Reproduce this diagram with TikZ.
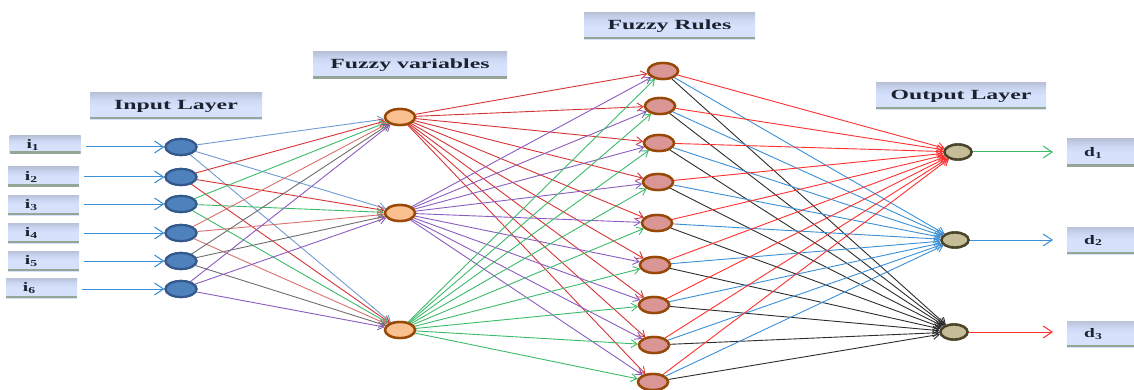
\documentclass[tikz,border=0pt]{standalone}
\usepackage{fontspec}
\setmainfont{Liberation Serif}
\usetikzlibrary{shapes.geometric,arrows.meta}

% palette
\definecolor{boxtop}{RGB}{140,140,148}
\definecolor{boxmid}{RGB}{204,216,244}
\definecolor{boxbot}{RGB}{214,226,252}
\definecolor{boxedge}{RGB}{150,166,150}
\definecolor{lbltxt}{RGB}{28,34,48}
\definecolor{inFill}{RGB}{79,129,189}
\definecolor{inDraw}{RGB}{52,90,140}
\definecolor{fvFill}{RGB}{250,192,144}
\definecolor{fvDraw}{RGB}{152,72,7}
\definecolor{ruFill}{RGB}{217,150,148}
\definecolor{outFill}{RGB}{196,189,151}
\definecolor{outDraw}{RGB}{74,69,42}
\definecolor{cBlueL}{RGB}{111,155,211}
\definecolor{cBlue}{RGB}{58,143,214}
\definecolor{cRed}{RGB}{214,52,52}
\definecolor{cGreen}{RGB}{60,186,106}
\definecolor{cPink}{RGB}{217,112,110}
\definecolor{cGrey}{RGB}{110,110,110}
\definecolor{cPurple}{RGB}{139,92,191}
\definecolor{cBrightRed}{RGB}{255,48,48}
\definecolor{cBlack}{RGB}{45,45,45}

% grey band at the top of each caption box, fading into pale blue
\pgfdeclareverticalshading{captionshade}{100bp}{%
  color(0bp)=(boxbot); color(50bp)=(boxbot); color(62bp)=(boxmid);
  color(82bp)=(boxmid!55!boxtop); color(100bp)=(boxtop)}

\newcommand{\wide}[1]{\scalebox{1.7}[1]{#1}}
\newcommand{\idx}[2]{\scalebox{1.5}[1]{\bfseries #1\textsubscript{#2}}}

\tikzset{
  shadedbox/.style={rectangle, inner sep=0pt, shading=captionshade,
    path picture={\fill[boxedge] (path picture bounding box.south west)
      rectangle ([yshift=2.5pt]path picture bounding box.south east);}},
  titlebox/.style={shadedbox, minimum height=27pt,
    font=\fontsize{14}{16}\selectfont\bfseries, text=lbltxt},
  sidebox/.style={shadedbox, minimum height=#1, text width=55pt, inner xsep=8pt,
    align=left, font=\fontsize{13}{15}\selectfont, text=lbltxt},
  innode/.style={ellipse, minimum width=31pt, minimum height=16pt, inner sep=0pt,
    fill=inFill, draw=inDraw, line width=2.2pt},
  fvnode/.style={ellipse, minimum width=30pt, minimum height=16pt, inner sep=0pt,
    fill=fvFill, draw=fvDraw, line width=2.4pt},
  runode/.style={ellipse, minimum width=30pt, minimum height=16pt, inner sep=0pt,
    fill=ruFill, draw=fvDraw, line width=2.4pt},
  outnode/.style={ellipse, minimum width=27pt, minimum height=15pt, inner sep=0pt,
    fill=outFill, draw=outDraw, line width=2.4pt},
  link/.style={line width=0.9pt, -{Straight Barb[length=6pt,width=8pt]}},
  feed/.style={line width=1pt, -{Straight Barb[length=9pt,width=12pt]}},
}

\begin{document}
\begin{tikzpicture}[x=1pt,y=-1pt]
\useasboundingbox (0,0) rectangle (1134,390);
\clip (0,0) rectangle (1134,390);

% layer titles
\node[titlebox, minimum width=172pt] (tin) at (176,106) {\wide{Input Layer}};
\node[titlebox, minimum width=194pt] (tfv) at (410,65.5) {\wide{Fuzzy variables}};
\node[titlebox, minimum width=171pt] (tru) at (669.5,26) {\wide{Fuzzy Rules}};
\node[titlebox, minimum width=170pt] (tout) at (961,96) {\wide{Output Layer}};

% input boxes
\node[sidebox=18pt] (b1) at (45,145) {\hspace*{9pt}\idx{i}{1}};
\node[sidebox=20pt] (b2) at (43.5,177) {\hspace*{9pt}\idx{i}{2}};
\node[sidebox=20pt] (b3) at (43.5,205) {\hspace*{9pt}\idx{i}{3}};
\node[sidebox=20pt] (b4) at (43.5,233) {\hspace*{9pt}\idx{i}{4}};
\node[sidebox=20pt] (b5) at (43.5,261) {\hspace*{9pt}\idx{i}{5}};
\node[sidebox=20pt] (b6) at (41.5,288) {\hspace*{9pt}\idx{i}{6}};

% output boxes
\node[sidebox=28pt, anchor=west] (d1) at (1067,153) {\hspace*{9pt}\idx{d}{1}};
\node[sidebox=27pt, anchor=west] (d2) at (1067,240.5) {\hspace*{9pt}\idx{d}{2}};
\node[sidebox=26pt, anchor=west] (d3) at (1067,334) {\hspace*{9pt}\idx{d}{3}};

% input neurons
\foreach \k/\y in {1/147,2/177,3/204,4/233,5/261,6/289}
  \node[innode] (n\k) at (181,\y) {};

% fuzzy variable neurons
\node[fvnode] (f1) at (400,117) {};
\node[fvnode] (f2) at (400,213) {};
\node[fvnode] (f3) at (400,330) {};

% rule neurons
\foreach \k/\x/\y in {1/663/71,2/660/106,3/659/143,4/658/182,5/657/223,
                      6/655/265,7/654/305,8/654/345,9/653/382}
  \node[runode] (r\k) at (\x,\y) {};

% output neurons
\node[outnode] (o1) at (958,152) {};
\node[outnode] (o2) at (955,240) {};
\node[outnode] (o3) at (954,332) {};

% input feeds
\foreach \k in {1,...,6}
  \draw[feed, cBlue] ([xshift=5pt]b\k.east |- n\k) -- (n\k.west);

% inputs to fuzzy variables
\foreach \k/\c in {1/cBlueL,2/cRed,3/cGreen,4/cPink,5/cGrey,6/cPurple}
  \foreach \j in {1,2,3}
    \draw[link, \c] (n\k) -- (f\j);

% fuzzy variables to rules
\foreach \j/\c in {1/cRed,2/cPurple,3/cGreen}
  \foreach \k in {1,...,9}
    \draw[link, \c] (f\j) -- (r\k);

% rules to outputs
\foreach \k in {1,...,9} {
  \draw[link, cBlack] (r\k) -- (o3);
  \draw[link, cBlue] (r\k) -- (o2);
  \draw[link, cBrightRed] (r\k) -- (o1);
}

% redraw neurons above the links
\foreach \k in {1,...,6} \node[innode] at (n\k) {};
\foreach \k in {1,2,3} \node[fvnode] at (f\k) {};
\foreach \k in {1,...,9} \node[runode] at (r\k) {};
\node[outnode] at (o1) {};
\node[outnode] at (o2) {};
\node[outnode] at (o3) {};

% output feeds
\draw[feed, cGreen] (o1.east) -- ([xshift=-14pt]d1.west |- o1);
\draw[feed, cBlue] (o2.east) -- ([xshift=-14pt]d2.west |- o2);
\draw[feed, cBrightRed] (o3.east) -- ([xshift=-14pt]d3.west |- o3);
\end{tikzpicture}
\end{document}
